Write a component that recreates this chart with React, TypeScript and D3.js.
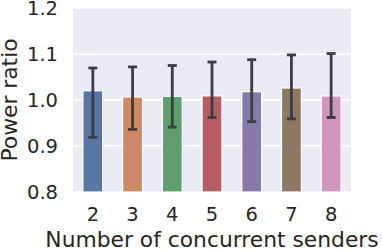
import React from "react";
import * as d3 from "d3";

const categories = ["2", "3", "4", "5", "6", "7", "8"];
const means = [1.02, 1.0065, 1.008, 1.009, 1.018, 1.026, 1.0087];
const errLow = [0.919, 0.936, 0.941, 0.962, 0.953, 0.959, 0.962];
const errHigh = [1.0696, 1.072, 1.075, 1.0826, 1.0876, 1.098, 1.101];
const colors = ["#5875A4", "#CC8963", "#5F9E6E", "#B55D60", "#857AAB", "#8D7866", "#D095BF"];
const yTicks = [0.8, 0.9, 1.0, 1.1, 1.2];

const W = 382;
const H = 252;
const M = { left: 73, right: 351, top: 8, bottom: 192 };
const FONT = "DejaVu Sans, sans-serif";

export default function App() {
  const x = d3.scaleBand<string>().domain(categories).range([M.left, M.right]).paddingInner(0).paddingOuter(0);
  const y = d3.scaleLinear().domain([0.8, 1.2]).range([M.bottom, M.top]);
  const bw = x.bandwidth() * 0.5;
  const capW = 9;
  return (
    <svg width={W} height={H} style={{ position: "absolute", left: 0, top: 0 }} fontFamily={FONT}>
      <rect x={M.left} y={M.top} width={M.right - M.left} height={M.bottom - M.top} fill="#EAEAF2" />
      {yTicks.map((t) => (
        <line key={"g" + t} x1={M.left} x2={M.right} y1={y(t)} y2={y(t)} stroke="#fff" strokeWidth={1.6} />
      ))}
      {categories.map((c, i) => {
        const cx = (x(c) as number) + x.bandwidth() / 2;
        return (
          <g key={c}>
            <rect
              x={cx - bw / 2}
              y={y(means[i])}
              width={bw}
              height={y(0.8) - y(means[i])}
              fill={colors[i]}
              stroke="#fff"
              strokeWidth={1.2}
            />
            <line x1={cx} x2={cx} y1={y(errLow[i])} y2={y(errHigh[i])} stroke="#3d3d3d" strokeWidth={2.8} />
            <line x1={cx - capW / 2} x2={cx + capW / 2} y1={y(errLow[i])} y2={y(errLow[i])} stroke="#3d3d3d" strokeWidth={2.8} />
            <line x1={cx - capW / 2} x2={cx + capW / 2} y1={y(errHigh[i])} y2={y(errHigh[i])} stroke="#3d3d3d" strokeWidth={2.8} />
            <text x={cx} y={221} textAnchor="middle" fontSize={19.5} fill="#262626">
              {c}
            </text>
          </g>
        );
      })}
      {yTicks.map((t) => (
        <text key={"t" + t} x={58} y={y(t) + 7.2} textAnchor="end" fontSize={19.5} fill="#262626">
          {t.toFixed(1)}
        </text>
      ))}
      <text x={(M.left + M.right) / 2} y={246.5} textAnchor="middle" fontSize={21.8} fill="#262626">
        Number of concurrent senders
      </text>
      <text
        transform={`translate(17, ${(M.top + M.bottom) / 2}) rotate(-90)`}
        textAnchor="middle"
        fontSize={21.8}
        fill="#262626"
      >
        Power ratio
      </text>
    </svg>
  );
}
